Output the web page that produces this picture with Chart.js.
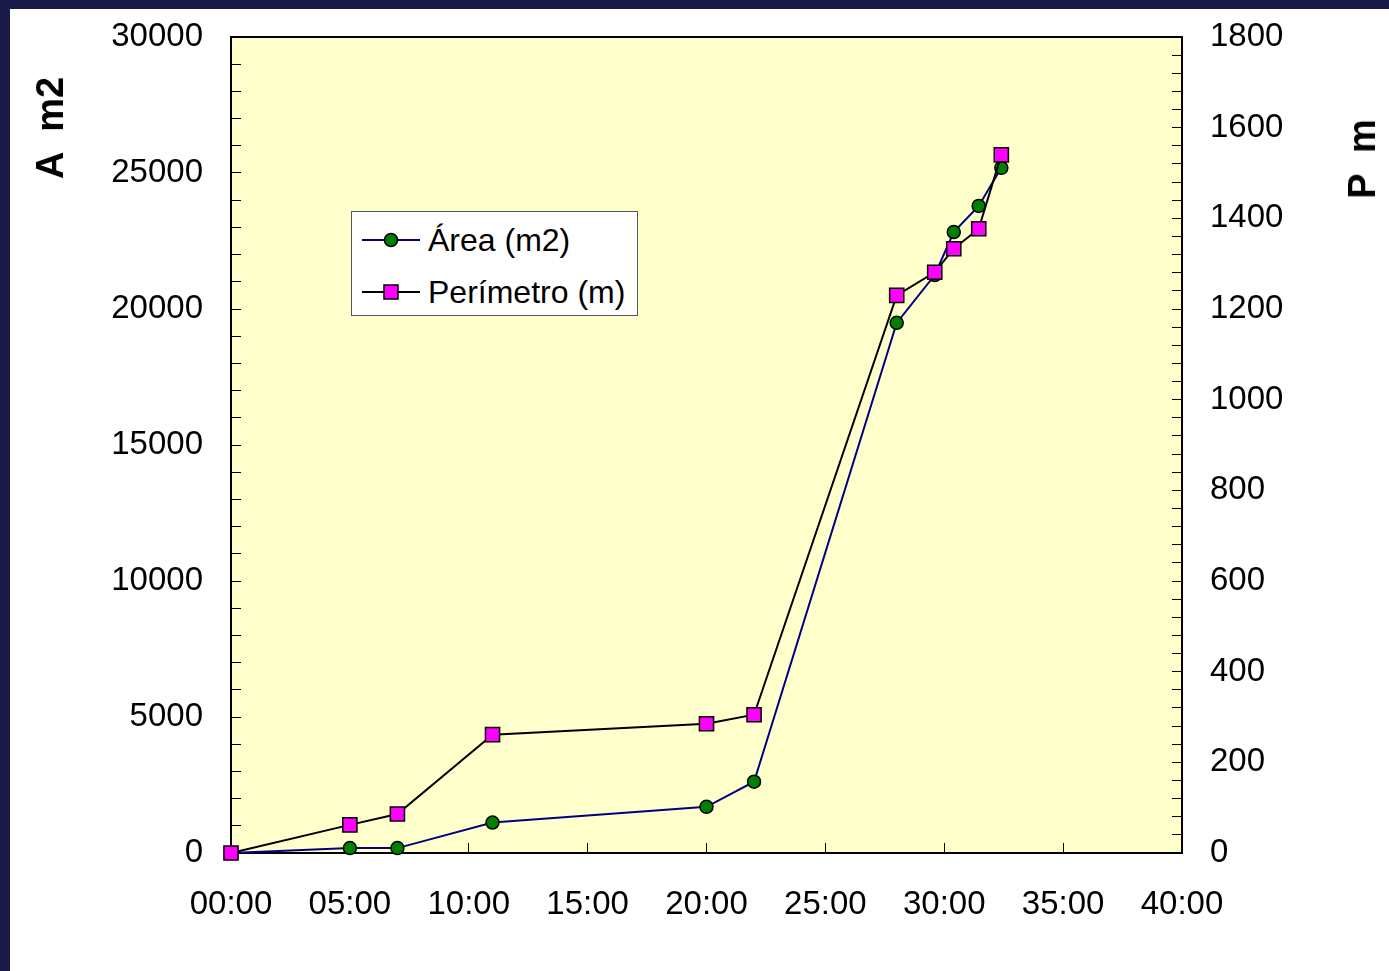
<!DOCTYPE html>
<html>
<head>
<meta charset="utf-8">
<script src="https://cdn.jsdelivr.net/npm/chart.js@4/dist/chart.umd.min.js"></script>
<style>
  html, body { margin: 0; padding: 0; background: #ffffff; }
  body { width: 1389px; height: 971px; position: relative; overflow: hidden; font-family: "Liberation Sans", Arial, sans-serif; }
  #chart { position: absolute; left: 0; top: 0; }
  .bar { position: absolute; background: #1a1a48; z-index: 5; }
  .ytitle { position: absolute; font-weight: bold; font-size: 38px; white-space: pre; color: #000; transform: translate(-50%, -50%) rotate(-90deg); line-height: 1; }
  #legend { position: absolute; left: 351px; top: 211px; width: 285px; height: 103px; background: #fff; border: 1px solid #555; box-sizing: content-box; }
  .lrow { position: absolute; left: 10px; height: 40px; display: flex; align-items: center; font-size: 32px; color: #000; white-space: pre; }
  .lrow svg { margin-right: 8px; }
</style>
</head>
<body>
<div class="bar" style="left:0;top:0;width:1389px;height:9px"></div>
<div class="bar" style="left:0;top:0;width:10px;height:971px"></div>
<canvas id="chart" width="1389" height="971"></canvas>
<div class="ytitle" style="left:50px;top:128px">A  m2</div>
<div class="ytitle" style="left:1362px;top:159px">P  m</div>
<div id="legend"></div>
<script>
// ---- data ----
const hours = [0, 5, 7, 11, 20, 22, 28, 29.6, 30.4, 31.45, 32.4];
const areaValues = [0, 180, 180, 1120, 1700, 2620, 19490, 21250, 22830, 23790, 25190];
const perimeterValues = [0, 62, 86, 261, 285, 305, 1230, 1281, 1333, 1377, 1540];
const seriesLabels = ['Área (m2)', 'Perímetro (m)'];
const xTickHours = [0, 5, 10, 15, 20, 25, 30, 35, 40];
const leftTickLabels = [0, 5000, 10000, 15000, 20000, 25000, 30000];
const rightTickLabels = [0, 200, 400, 600, 800, 1000, 1200, 1400, 1600, 1800];

const FONT = { family: '"Liberation Sans", Arial, sans-serif', size: 33 };
const pad2 = n => String(n).padStart(2, '0');

const plotBg = {
  id: 'plotBg',
  beforeDraw(chart) {
    const { ctx, chartArea: a } = chart;
    ctx.save();
    ctx.fillStyle = '#FFFFCC';
    ctx.fillRect(a.left, a.top, a.right - a.left, a.bottom - a.top);
    ctx.restore();
  },
  beforeDatasetsDraw(chart) {
    const { ctx, chartArea: a } = chart;
    ctx.save();
    ctx.strokeStyle = '#000';
    ctx.lineWidth = 2;
    ctx.strokeRect(a.left, a.top, a.right - a.left, a.bottom - a.top);
    ctx.restore();
  }
};

const fitV = w => s => { s.width = w; s.paddingTop = 0; s.paddingBottom = 0; };

const chart = new Chart(document.getElementById('chart'), {
  type: 'line',
  data: {
    datasets: [
      {
        label: seriesLabels[0],
        data: hours.map((h, i) => ({ x: h, y: areaValues[i] })),
        yAxisID: 'yA',
        borderColor: '#000080',
        borderWidth: 2,
        pointStyle: 'circle',
        pointRadius: 6.5,
        pointBackgroundColor: '#008000',
        pointBorderColor: '#000',
        pointBorderWidth: 1.5,
        tension: 0,
        clip: false,
        order: 1
      },
      {
        label: seriesLabels[1],
        data: hours.map((h, i) => ({ x: h, y: perimeterValues[i] })),
        yAxisID: 'yP',
        borderColor: '#000',
        borderWidth: 2,
        pointStyle: 'rect',
        pointRadius: 10,
        pointBackgroundColor: '#FF00FF',
        pointBorderColor: '#000',
        pointBorderWidth: 1.5,
        tension: 0,
        clip: false,
        order: 0
      }
    ]
  },
  options: {
    responsive: false,
    animation: false,
    events: [],
    layout: { padding: { top: 37, left: 0, right: 0, bottom: 0 } },
    plugins: { legend: { display: false }, tooltip: { enabled: false } },
    scales: {
      x: {
        type: 'linear',
        position: 'bottom',
        min: 0, max: 40,
        afterBuildTicks: s => { s.ticks = xTickHours.map(v => ({ value: v })); },
        afterFit: s => { s.height = 118; s.paddingLeft = 0; s.paddingRight = 0; },
        ticks: {
          color: '#000', font: FONT, padding: 42, maxRotation: 0, autoSkip: false,
          callback: v => pad2(v) + ':00'
        },
        grid: { drawOnChartArea: false, tickLength: -10, tickColor: '#000', tickWidth: 1 },
        border: { display: false }
      },
      yA: {
        type: 'linear',
        position: 'left',
        min: 0, max: 30000,
        afterBuildTicks: s => { const t = []; for (let v = 0; v <= 30000; v += 1000) t.push({ value: v }); s.ticks = t; },
        afterFit: fitV(231),
        ticks: {
          color: '#000', font: FONT, padding: 38, autoSkip: false,
          callback: v => leftTickLabels.includes(v) ? String(v) : ''
        },
        grid: { drawOnChartArea: false, tickLength: -10, tickColor: '#000', tickWidth: 1 },
        border: { display: false }
      },
      yP: {
        type: 'linear',
        position: 'right',
        min: 0, max: 1800,
        afterBuildTicks: s => { const t = []; for (let v = 0; v <= 1800; v += 40) t.push({ value: v }); s.ticks = t; },
        afterFit: fitV(207),
        ticks: {
          color: '#000', font: FONT, padding: 38, autoSkip: false,
          callback: v => rightTickLabels.includes(v) ? String(v) : ''
        },
        grid: { drawOnChartArea: false, tickLength: -10, tickColor: '#000', tickWidth: 1 },
        border: { display: false }
      }
    }
  },
  plugins: [plotBg]
});

// ---- legend (HTML, built from the dataset definitions) ----
const legend = document.getElementById('legend');
chart.data.datasets.forEach((ds, i) => {
  const row = document.createElement('div');
  row.className = 'lrow';
  row.style.top = (i === 0 ? 8 : 60) + 'px';
  const marker = ds.pointStyle === 'circle'
    ? `<circle cx="29" cy="20" r="6.5" fill="${ds.pointBackgroundColor}" stroke="#000" stroke-width="1.5"/>`
    : `<rect x="22" y="13" width="14" height="14" fill="${ds.pointBackgroundColor}" stroke="#000" stroke-width="1.5"/>`;
  row.innerHTML = `<svg width="58" height="40"><line x1="0" y1="20" x2="58" y2="20" stroke="${ds.borderColor}" stroke-width="2"/>${marker}</svg><span>${ds.label}</span>`;
  legend.appendChild(row);
});
</script>
</body>
</html>
